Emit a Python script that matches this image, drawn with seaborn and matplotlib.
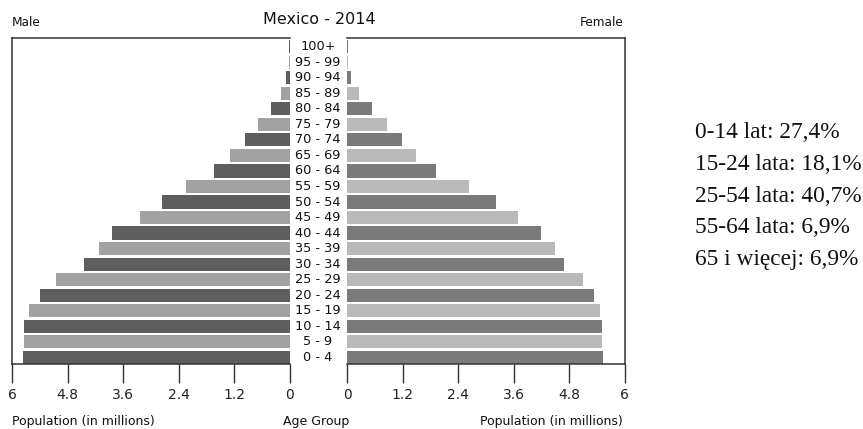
import matplotlib
matplotlib.use("Agg")
import matplotlib.pyplot as plt
import matplotlib.transforms as mtransforms
import seaborn as sns
import pandas as pd

ages = ["0 - 4", "5 - 9", "10 - 14", "15 - 19", "20 - 24", "25 - 29", "30 - 34",
        "35 - 39", "40 - 44", "45 - 49", "50 - 54", "55 - 59", "60 - 64", "65 - 69",
        "70 - 74", "75 - 79", "80 - 84", "85 - 89", "90 - 94", "95 - 99", "100+"]
male = [5.77, 5.74, 5.74, 5.63, 5.40, 5.04, 4.44, 4.12, 3.83, 3.24, 2.75,
        2.24, 1.63, 1.28, 0.97, 0.69, 0.41, 0.19, 0.065, 0.015, 0.02]
female = [5.54, 5.51, 5.52, 5.47, 5.35, 5.10, 4.70, 4.50, 4.19, 3.69, 3.22,
          2.64, 1.93, 1.50, 1.18, 0.86, 0.54, 0.27, 0.09, 0.02, 0.025]
xticks = [0, 1.2, 2.4, 3.6, 4.8, 6]
xticklabels = ["0", "1.2", "2.4", "3.6", "4.8", "6"]
title = "Mexico - 2014"
stats_lines = ["0-14 lat: 27,4%", "15-24 lata: 18,1%", "25-54 lata: 40,7%",
               "55-64 lata: 6,9%", "65 i więcej: 6,9%"]

df = pd.DataFrame({"age": ages, "male": male, "female": female})
order = ages[::-1]

male_pal = {a: ("#5e5e5e" if i % 2 == 0 else "#a2a2a2") for i, a in enumerate(ages)}
female_pal = {a: ("#7a7a7a" if i % 2 == 0 else "#b9b9b9") for i, a in enumerate(ages)}

sns.set_theme(style="white")
plt.rcParams["font.family"] = ["DejaVu Sans"]

W, H = 863, 429
fig = plt.figure(figsize=(W / 100, H / 100), dpi=100)

def rect(x0, x1, y0, y1):
    return [x0 / W, 1 - y1 / H, (x1 - x0) / W, (y1 - y0) / H]

axL = fig.add_axes(rect(12, 289.5, 38, 364))
axR = fig.add_axes(rect(347, 624.5, 38, 364))

sns.barplot(data=df, x="male", y="age", hue="age", order=order, hue_order=order,
            palette=male_pal, orient="h", width=0.85, legend=False, ax=axL,
            edgecolor="none", linewidth=0)
sns.barplot(data=df, x="female", y="age", hue="age", order=order, hue_order=order,
            palette=female_pal, orient="h", width=0.85, legend=False, ax=axR,
            edgecolor="none", linewidth=0)

axL.set_xlim(6, 0)
axR.set_xlim(0, 6)
for ax in (axL, axR):
    ax.set_ylim(20.43, -0.56)
    ax.set_yticks([])
    ax.set_ylabel("")
    ax.set_xlabel("")
    ax.set_xticks(xticks)
    ax.set_xticklabels(xticklabels, fontsize=10, color="#222222")
    ax.tick_params(axis="x", direction="out", length=14, width=1, color="#333333",
                   pad=3.5, bottom=True)
    for s in ax.spines.values():
        s.set_color("#333333")
        s.set_linewidth(1.1)
axL.spines["right"].set_visible(False)
axR.spines["left"].set_visible(False)

# age group labels in the centre column
trans = mtransforms.blended_transform_factory(fig.transFigure, axL.transData)
for i, a in enumerate(order):
    axL.text(318 / W, i, a, transform=trans, ha="center", va="center",
             fontsize=9.3, color="#111111", clip_on=False)

fig.text(319 / W, 1 - 20 / H, title, ha="center", va="center", fontsize=11.5, color="#111111")
fig.text(12 / W, 1 - 22 / H, "Male", ha="left", va="center", fontsize=8.7, color="#111111")
fig.text(623.5 / W, 1 - 22 / H, "Female", ha="right", va="center", fontsize=8.7, color="#111111")

fig.text(12 / W, 1 - 421 / H, "Population (in millions)", ha="left", va="center",
         fontsize=9, color="#111111")
fig.text(316 / W, 1 - 421 / H, "Age Group", ha="center", va="center",
         fontsize=9, color="#111111")
fig.text(623 / W, 1 - 421 / H, "Population (in millions)", ha="right", va="center",
         fontsize=9, color="#111111")

for k, line in enumerate(stats_lines):
    fig.text(695 / W, 1 - (133 + 31.5 * k) / H, line, ha="left", va="center",
             fontsize=16.8, family="Liberation Serif", color="#111111")

fig.savefig("out.png", dpi=100, facecolor="white")
